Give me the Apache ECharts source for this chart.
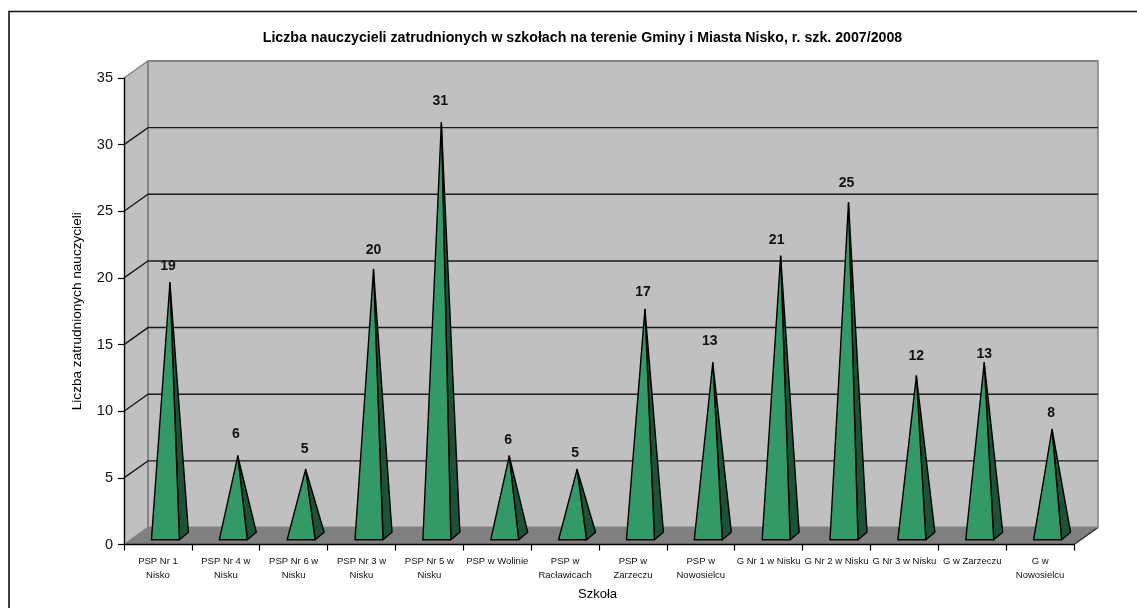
<!DOCTYPE html>
<html><head><meta charset="utf-8">
<style>html,body{margin:0;padding:0;background:#fff}#c{width:1137px;height:608px}</style>
<script src="https://cdn.jsdelivr.net/npm/echarts@6/dist/echarts.min.js"></script></head>
<body><div id="c"></div>
<script>
const titleText = 'Liczba nauczycieli zatrudnionych w szkołach na terenie Gminy i Miasta Nisko, r. szk. 2007/2008';
const categories = ['PSP Nr 1\nNisko','PSP Nr 4 w\nNisku','PSP Nr 6 w\nNisku','PSP Nr 3 w\nNisku','PSP Nr 5 w\nNisku','PSP w Wolinie','PSP w\nRacławicach','PSP w\nZarzeczu','PSP w\nNowosielcu','G Nr 1 w Nisku','G Nr 2 w Nisku','G Nr 3 w Nisku','G w Zarzeczu','G w\nNowosielcu'];
const values = [19,6,5,20,31,6,5,17,13,21,25,12,13,8];
const yTicks = [0,5,10,15,20,25,30,35];
const DX = 24, DY = 17;
const HW = 14, HDX = 4.5, HDY = 3.8;
const FONT = '"Liberation Sans", Arial, sans-serif';
// how far each value label sits above / beside the tip of its pyramid
const labelLift = [17,22,20,19,22,16,16,17,22,16,20,20,9,16];
const labelShift = [-2,-2,-1,0,-1,-1,-2,-2,-3,-4,-2,0,0,-1];

function walls(params, api) {
  const cs = params.coordSys, t = api.value(1), y = api.coord([0, t])[1];
  const L = cs.x, R = cs.x + cs.width, B = cs.y + cs.height, T = cs.y;
  const kids = [];
  const edge = t === 0 || t === 35;
  if (t === 0) {
    kids.push({type:'polygon',shape:{points:[[L,T],[L+DX,T-DY],[L+DX,B-DY],[L,B]]},style:{fill:'#C0C0C0',stroke:'none'}});
    kids.push({type:'rect',shape:{x:L+DX,y:T-DY,width:cs.width,height:cs.height},style:{fill:'#C0C0C0',stroke:'#808080',lineWidth:1.5}});
    kids.push({type:'polygon',shape:{points:[[L,B],[L+DX,B-DY],[R+DX,B-DY],[R,B]]},style:{fill:'#808080',stroke:'none'}});
    kids.push({type:'line',shape:{x1:L+DX,y1:T-DY,x2:L+DX,y2:B-DY},style:{stroke:'#808080',lineWidth:1.5}});
    kids.push({type:'line',shape:{x1:R,y1:B,x2:R+DX,y2:B-DY},style:{stroke:'#222',lineWidth:1.2}});
  }
  kids.push({type:'polyline',shape:{points:[[L,y],[L+DX,y-DY],[R+DX,y-DY]]},
    style:{fill:'none',stroke:edge?'#808080':'#1a1a1a',lineWidth:1.4}});
  return {type:'group',children:kids};
}
function pyramid(params, api) {
  const i = params.dataIndex;
  const p = api.coord([api.value(0), api.value(1)]);
  const b = api.coord([api.value(0), 0]);
  const apex = [p[0]+DX/2, p[1]-DY/2];
  const cx = b[0]+DX/2, cy = b[1]-DY/2;
  const fl = [cx-HDX-HW, cy+HDY], fr = [cx-HDX+HW, cy+HDY], br = [cx+HDX+HW, cy-HDY];
  const ln = {stroke:'#000',lineWidth:1.4,lineJoin:'round'};
  return {type:'group',children:[
    {type:'polygon',shape:{points:[fr,br,apex]},style:{fill:'#1C5236',...ln}},
    {type:'polygon',shape:{points:[fl,fr,apex]},style:{fill:'#339966',...ln}},
    {type:'text',style:{text:String(api.value(1)),x:apex[0]+labelShift[i],y:apex[1]-labelLift[i],align:'center',verticalAlign:'middle',
      fill:'#111',font:'bold 14px '+FONT}}
  ]};
}
const chart = echarts.init(document.getElementById('c'), null, {renderer:'canvas'});
chart.setOption({
  animation:false,
  backgroundColor:'#fff',
  title:{text:titleText,left:577.5,top:26,textAlign:'center',textStyle:{fontFamily:FONT,fontSize:14.2,fontWeight:'bold',color:'#000'}},
  graphic:[{type:'rect',shape:{x:9,y:11.5,width:1300,height:800},style:{fill:'none',stroke:'#111',lineWidth:1.6},z:100}],
  grid:{left:124,right:63,top:78,bottom:63.5},
  xAxis:{type:'category',data:categories,z:5,name:'Szkoła',nameLocation:'middle',nameGap:43,
    nameTextStyle:{fontFamily:FONT,fontSize:13,color:'#000',padding:[0,3,0,0]},
    axisLine:{lineStyle:{color:'#000',width:1.4}},
    axisTick:{show:true,length:6,alignWithLabel:false,lineStyle:{color:'#000',width:1.2}},
    axisLabel:{interval:0,margin:10,fontFamily:FONT,fontSize:9.5,lineHeight:14,color:'#111'},
    splitLine:{show:false}},
  yAxis:{type:'value',min:0,max:35,interval:5,z:5,name:'Liczba zatrudnionych nauczycieli',nameLocation:'middle',nameGap:40,
    nameTextStyle:{fontFamily:FONT,fontSize:13.6,color:'#000'},
    axisLine:{show:true,lineStyle:{color:'#000',width:1.4}},
    axisTick:{show:true,length:6,lineStyle:{color:'#000',width:1.2}},
    axisLabel:{margin:11,fontFamily:FONT,fontSize:14.5,color:'#111'},
    splitLine:{show:false}},
  series:[
    {type:'custom',z:1,clip:false,silent:true,renderItem:walls,data:yTicks.map(t=>[0,t])},
    {type:'custom',z:6,clip:false,silent:true,renderItem:pyramid,data:values.map((v,i)=>[i,v])}
  ]
});
</script></body></html>
